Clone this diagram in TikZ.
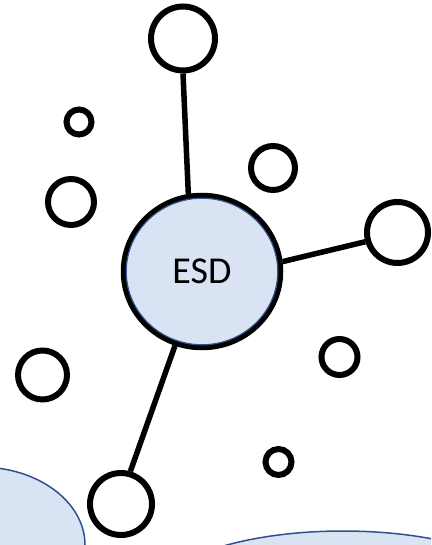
\documentclass[tikz,border=0pt]{standalone}
\usepackage{fontspec}
\setmainfont{Carlito}
\usetikzlibrary{shapes.geometric}
\definecolor{lblue}{HTML}{DAE3F3}
\definecolor{dblue}{HTML}{2F528F}
\tikzset{
  ring/.style={circle, draw=black, line width=6pt, fill=white, inner sep=0pt, minimum size=#1},
  link/.style={line width=5.5pt, black},
  blob/.style={fill=lblue, draw=dblue, line width=1.5pt}
}
\begin{document}
\begin{tikzpicture}[x=1pt,y=-1pt]
\useasboundingbox (0,0) rectangle (431,545);
\begin{scope}
\clip (0,0) rectangle (431,545);
\draw[blob] (-20,545) ellipse [x radius=105, y radius=78];
\draw[blob] (343,600) ellipse [x radius=192, y radius=69];
\end{scope}
% hub
\node[ellipse, draw=black, line width=5.5pt, fill=lblue, minimum width=157pt, minimum height=152pt, inner sep=0pt,
      font=\fontsize{38}{40}\selectfont] (esd) at (202,271.5) {ESD};
\draw[dblue, line width=1.2pt] (esd.center) ellipse [x radius=75.8, y radius=73.3];
% linked circles
\node[ring=64pt] (top) at (183,38.5) {};
\node[ring=61pt] (right) at (397.5,232.5) {};
\node[ring=62pt] (bot) at (121,504) {};
% loose circles
\node[ring=25pt] (s1) at (79,122) {};
\node[ring=46pt] (s2) at (71,202) {};
\node[ring=44pt] (s3) at (273,168) {};
\node[ring=49pt] (s4) at (42.5,375) {};
\node[ring=36pt] (s5) at (339.5,357) {};
\node[ring=26pt] (s6) at (278.5,462) {};
% connectors
\draw[link] (top.south) -- (esd.100);
\draw[link] (esd.7) -- (right.196);
\draw[link] (esd.250) -- (bot.74);
\end{tikzpicture}
\end{document}
